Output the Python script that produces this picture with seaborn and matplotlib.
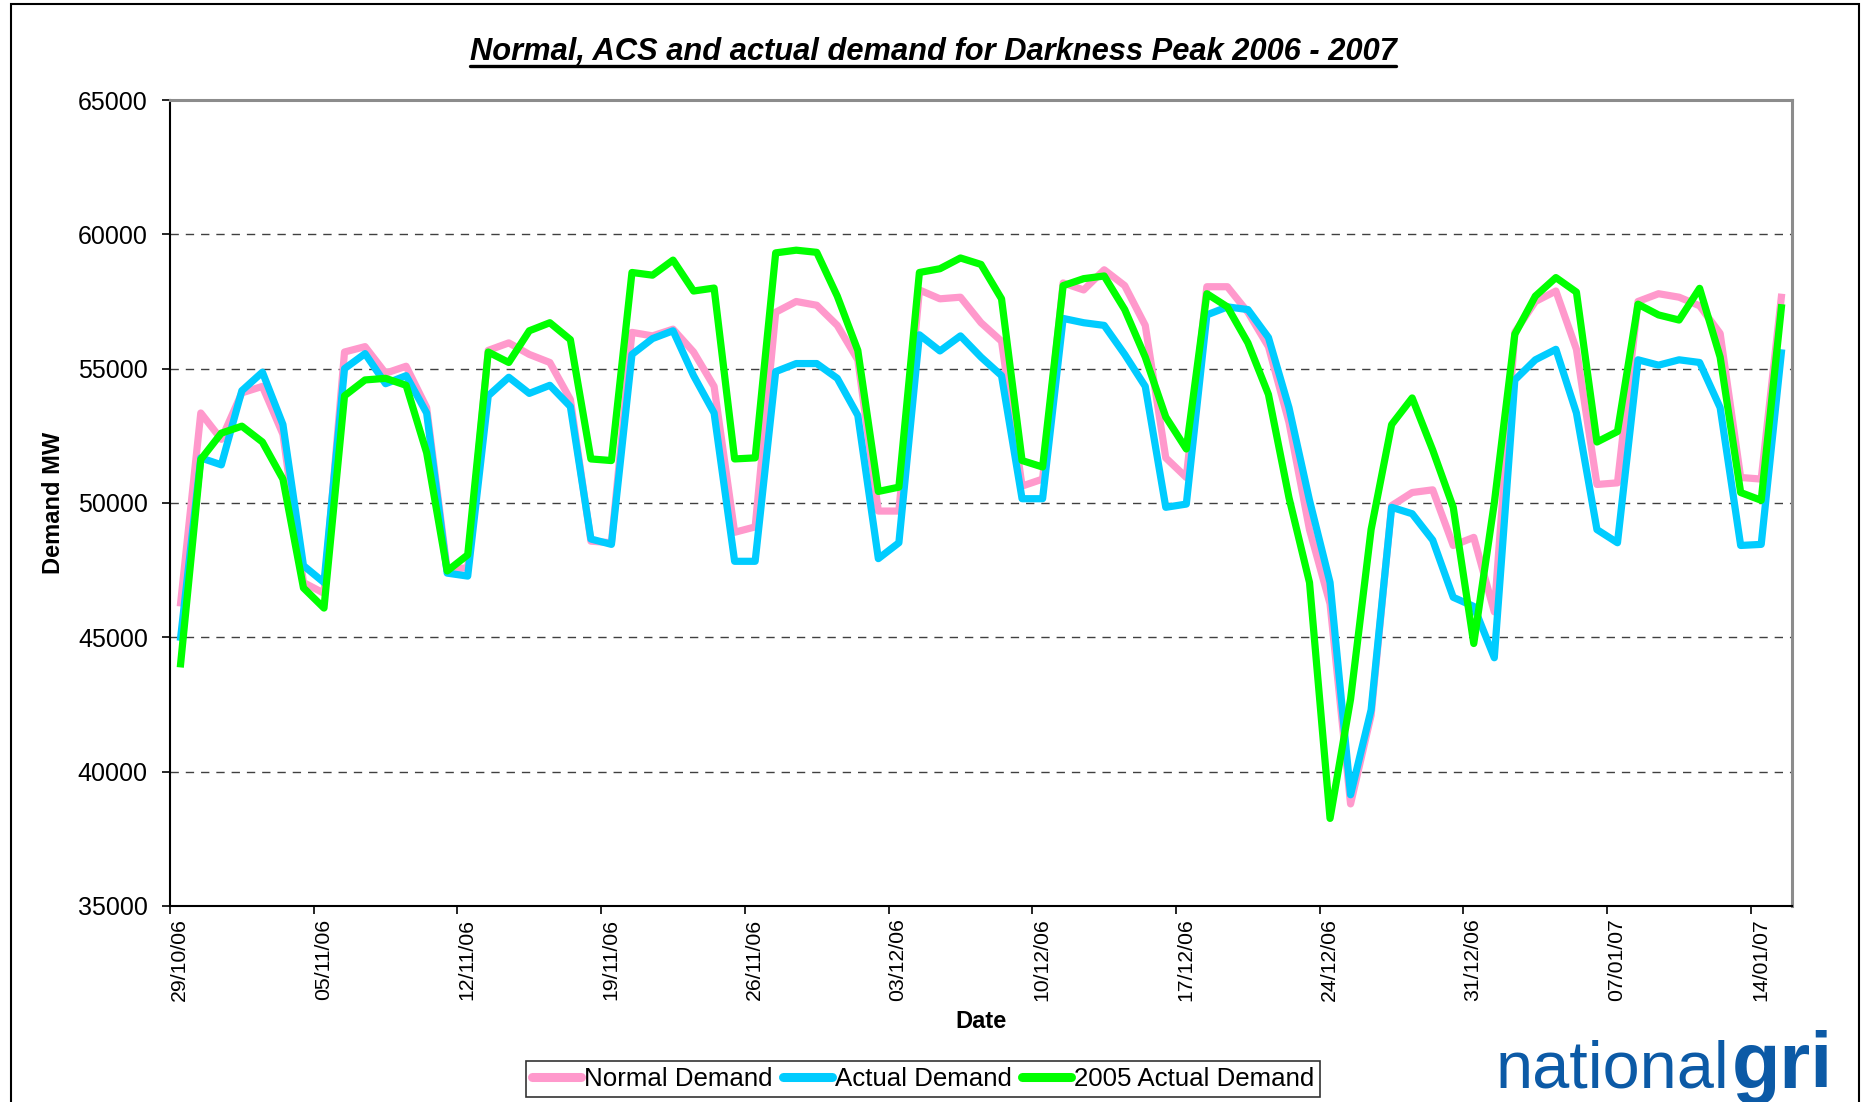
import numpy as np
import pandas as pd
import matplotlib
matplotlib.use("Agg")
import matplotlib.pyplot as plt
import matplotlib.dates as mdates
import matplotlib.transforms as mtransforms
from matplotlib.lines import Line2D
from matplotlib.patches import Rectangle
import seaborn as sns

# daily darkness peak demand, 29/10/06 .. 15/01/07
start_date = "2006-10-29"
n_days = 79
dates = pd.date_range(start_date, periods=n_days, freq="D")

normal_demand = [
    46150, 53350, 52370, 54100, 54340, 52560, 47040, 46640, 55620, 55820,
    54830, 55090, 53550, 47530, 47590, 55680, 55960, 55530, 55230, 53850,
    48580, 48520, 56350, 56220, 56470, 55620, 54340, 48910, 49110, 57100,
    57500, 57360, 56610, 55330, 49700, 49700, 57930, 57600, 57660, 56710,
    56020, 50630, 50890, 58190, 57930, 58680, 58090, 56610, 51680, 50950,
    58050, 58050, 57100, 55820, 53000, 49010, 46250, 38800, 42100, 49900,
    50390, 50490, 48420, 48720, 45950, 56350, 57500, 57890, 55720, 50690,
    50750, 57500, 57790, 57660, 57340, 56310, 50950, 50890, 57790,
]
actual_demand = [
    44870, 51680, 51420, 54180, 54870, 52920, 47670, 47040, 55000, 55560,
    54440, 54740, 53350, 47390, 47280, 53990, 54680, 54080, 54380, 53590,
    48660, 48460, 55530, 56120, 56410, 54740, 53350, 47830, 47830, 54890,
    55190, 55190, 54640, 53260, 47930, 48520, 56260, 55660, 56220, 55430,
    54740, 50160, 50160, 56870, 56710, 56610, 55530, 54340, 49840, 49960,
    57000, 57300, 57200, 56160, 53550, 50100, 47040, 39140, 42300, 49840,
    49600, 48620, 46490, 46150, 44240, 54580, 55330, 55720, 53350, 49010,
    48520, 55330, 55130, 55330, 55230, 53550, 48420, 48460, 55720,
]
actual_2005 = [
    43880, 51620, 52600, 52860, 52270, 50890, 46840, 46090, 53990, 54580,
    54640, 54380, 51870, 47470, 48070, 55620, 55230, 56410, 56710, 56080,
    51640, 51580, 58580, 58480, 59040, 57890, 58000, 51640, 51680, 59310,
    59410, 59330, 57700, 55680, 50430, 50590, 58580, 58720, 59120, 58880,
    57600, 51580, 51340, 58090, 58350, 58450, 57200, 55430, 53200, 52010,
    57790, 57300, 55960, 54040, 50200, 47040, 38260, 42700, 49010, 52920,
    53910, 51970, 49840, 44770, 50000, 56280, 57700, 58390, 57850, 52270,
    52660, 57400, 57000, 56810, 57990, 55430, 50390, 50100, 57400,
]

series_names = ["Normal Demand", "Actual Demand", "2005 Actual Demand"]
series_colors = ["#FF99CC", "#00CCFF", "#00FF00"]
y_ticks = [35000, 40000, 45000, 50000, 55000, 60000, 65000]

# Excel draws each day in the middle of its date slot
df = pd.DataFrame({
    "Date": dates + pd.Timedelta(hours=12),
    series_names[0]: normal_demand,
    series_names[1]: actual_demand,
    series_names[2]: actual_2005,
})
long_df = df.melt(id_vars="Date", var_name="Series", value_name="Demand MW")

sns.set_theme(style="white")
plt.rcParams["font.family"] = ["Liberation Sans", "DejaVu Sans"]
plt.rcParams["text.color"] = "black"
plt.rcParams["axes.labelcolor"] = "black"
plt.rcParams["xtick.color"] = "black"
plt.rcParams["ytick.color"] = "black"

W, H = 1864, 1102
fig = plt.figure(figsize=(W / 100, H / 100), dpi=100)
fig.patch.set_facecolor("white")
ax = fig.add_axes([170 / W, 1 - 906 / H, 1622 / W, 806 / H])

sns.lineplot(data=long_df, x="Date", y="Demand MW", hue="Series",
             hue_order=series_names, palette=series_colors, linewidth=5.2,
             legend=False, sort=False, ax=ax, solid_joinstyle="round",
             solid_capstyle="butt")

ax.set_xlim(dates[0], dates[0] + pd.Timedelta(days=n_days))
ax.set_ylim(y_ticks[0], y_ticks[-1])
ax.set_yticks(y_ticks)
ax.set_yticklabels([str(v) for v in y_ticks])
ax.set_xticks(dates[::7])
ax.xaxis.set_major_formatter(mdates.DateFormatter("%d/%m/%y"))

ax.yaxis.grid(True, linestyle=(0, (6, 5)), color="#404040", linewidth=1)
ax.xaxis.grid(False)
ax.set_axisbelow(True)

for side in ["left", "bottom"]:
    ax.spines[side].set_color("black")
    ax.spines[side].set_linewidth(1.5)
for side in ["top", "right"]:
    ax.spines[side].set_color("#8c8c8c")
    ax.spines[side].set_linewidth(2.2)

ax.tick_params(axis="both", direction="out", length=6, width=1.2,
               color="black", labelcolor="black", left=True, bottom=True)
ax.tick_params(axis="y", labelsize=18, pad=10)
ax.tick_params(axis="x", labelsize=15.3, pad=3, labelrotation=90)

shift = mtransforms.ScaledTranslation(9.5 / 100, 0, fig.dpi_scale_trans)
for lab in ax.get_xticklabels():
    lab.set_transform(lab.get_transform() + shift)

ax.set_xlabel("Date", fontsize=17, fontweight="bold", va="center",
              color="black")
ax.xaxis.set_label_coords(0.5, (906 - 1022) / 806)
ax.set_ylabel("Demand MW", fontsize=17, fontweight="bold", va="center",
              color="black")
ax.yaxis.set_label_coords((53 - 170) / 1622, 0.5)

title = fig.text(933 / W, 1 - 52 / H,
                 "Normal, ACS and actual demand for Darkness Peak 2006 - 2007",
                 ha="center", va="center", fontsize=22.2, fontweight="bold",
                 fontstyle="italic", color="black")

handles = [Line2D([], [], color=c, linewidth=6.5, solid_capstyle="round")
           for c in series_colors]
leg = fig.legend(handles, series_names, loc="center", ncol=3,
                 bbox_to_anchor=(923 / W, 1 - 1079 / H), fontsize=18.6,
                 frameon=True, fancybox=False, edgecolor="black",
                 handlelength=1.9, handletextpad=0.12, columnspacing=0.4,
                 borderpad=0.22, borderaxespad=0, labelcolor="black")
leg.get_frame().set_linewidth(1.2)

# outer chart border
fig.patches.append(Rectangle((11 / W, -0.02), 1848 / W, 1.02 - 4 / H,
                             transform=fig.transFigure, fill=False,
                             edgecolor="black", linewidth=1.5, zorder=5))

fig.canvas.draw()
renderer = fig.canvas.get_renderer()

# underline for the title
bb = title.get_window_extent(renderer)
fig.add_artist(Line2D([bb.x0 / W, bb.x1 / W], [(bb.y0 + 1) / H] * 2,
                      transform=fig.transFigure, color="black", linewidth=2.4))

# logo (only the part visible inside the chart frame)
logo_blue = "#0c5aa6"
t1 = fig.text(1496 / W, 1 - 1088 / H, "national", fontsize=48,
              color=logo_blue, fontweight="normal", va="baseline", ha="left")
b1 = t1.get_window_extent(renderer)
fig.text((b1.x1 + 2) / W, 1 - 1088 / H, "gri", fontsize=57,
         color=logo_blue, fontweight="bold", va="baseline", ha="left")

fig.savefig("out.png", dpi=100, facecolor="white")
